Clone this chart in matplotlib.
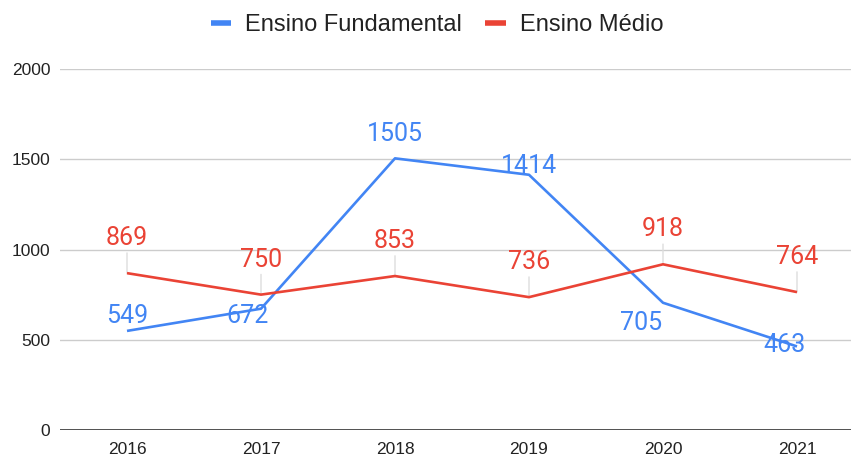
import matplotlib
matplotlib.use('Agg')
import matplotlib.pyplot as plt

years = ['2016', '2017', '2018', '2019', '2020', '2021']
fundamental = [549, 672, 1505, 1414, 705, 463]
medio = [869, 750, 853, 736, 918, 764]
yticks = [0, 500, 1000, 1500, 2000]

# label offsets in pixels (dx, dy)
fund_offsets = [(0, 15), (-14, -7), (0, 24), (0, 9), (-22, -20), (-12, 1)]
medio_offsets = [(0, 35)] * 6

blue = '#4285F4'
red = '#EA4335'

W, H = 851, 457
fig = plt.figure(figsize=(W / 100, H / 100), dpi=100)
ax = fig.add_axes([60 / W, (H - 430) / H, 1 - 60 / W, (430 - 69) / H])

x = list(range(len(years)))
ax.set_xlim(-0.5, 5 + 54 / 134)
ax.set_ylim(0, 2000)

for v in yticks[1:]:
    ax.axhline(v, color='#cccccc', lw=1, zorder=0)
ax.axhline(0, color='#333333', lw=1.2, zorder=1)

ax.plot(x, fundamental, color=blue, lw=1.9, label='Ensino Fundamental', zorder=3,
        solid_capstyle='butt')
ax.plot(x, medio, color=red, lw=1.9, label='Ensino Médio', zorder=3,
        solid_capstyle='butt')

for xi, v, (dx, dy) in zip(x, medio, medio_offsets):
    ax.annotate(str(v), (xi, v), xytext=(dx, dy), textcoords='offset pixels',
                ha='center', va='center', color=red, fontsize=18,
                family='Roboto', annotation_clip=False,
                arrowprops=dict(arrowstyle='-', color='#dddddd', lw=1,
                                shrinkA=0, shrinkB=0), zorder=2)
for xi, v, (dx, dy) in zip(x, fundamental, fund_offsets):
    ax.annotate(str(v), (xi, v), xytext=(dx, dy), textcoords='offset pixels',
                ha='center', va='center', color=blue, fontsize=18,
                family='Roboto', annotation_clip=False, zorder=4)

for s in ax.spines.values():
    s.set_visible(False)
ax.set_xticks(x)
ax.set_xticklabels(years, family='Liberation Sans', fontsize=12.5, color='#222222')
ax.set_yticks(yticks)
ax.set_yticklabels([str(v) for v in yticks], family='Liberation Sans',
                   fontsize=12.5, color='#222222')
ax.tick_params(length=0)
ax.tick_params(axis='x', pad=9)
ax.tick_params(axis='y', pad=7)

leg = fig.legend(loc='center', bbox_to_anchor=(437 / W, 1 - 25 / H), ncol=2,
                 frameon=False, prop={'family': 'Liberation Sans', 'size': 17},
                 handlelength=0.85, handletextpad=0.6, columnspacing=1.0)
for h in leg.get_lines():
    h.set_linewidth(4)
for t in leg.get_texts():
    t.set_color('#222222')

fig.savefig('out.png', dpi=100)
